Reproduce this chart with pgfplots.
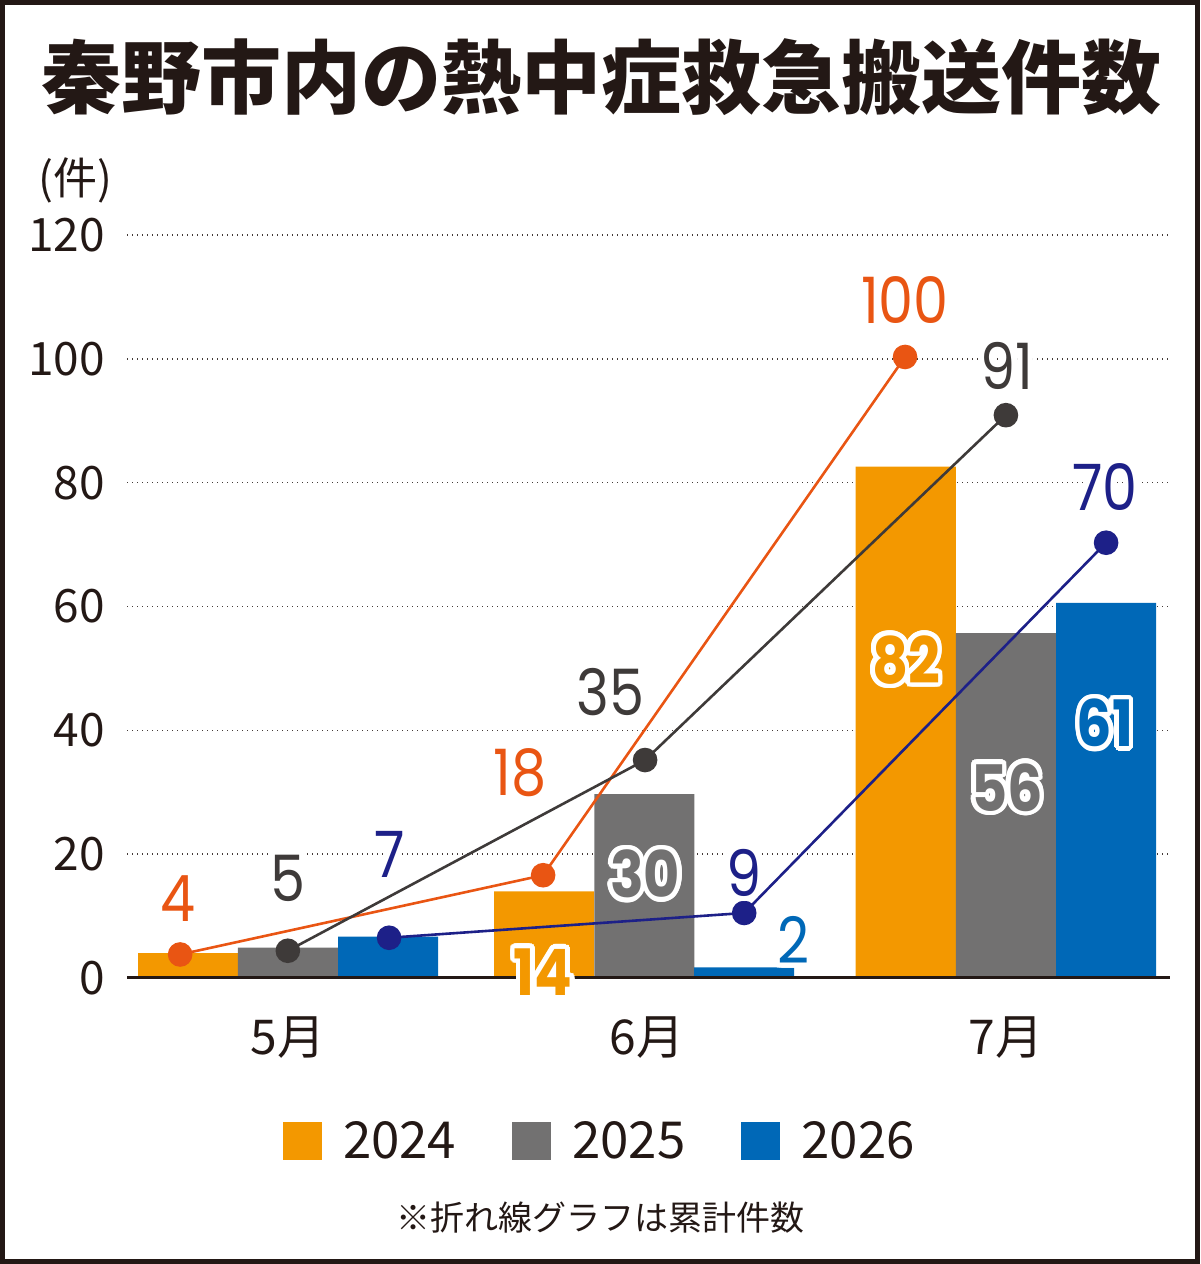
\documentclass[border=0pt]{standalone}
\usepackage{fontspec}
\setmainfont{Noto Sans CJK JP}
\newfontfamily\numfont{Poppins}[FakeStretch=0.87]
\usepackage{pgfplots}
\pgfplotsset{compat=1.18}
\definecolor{c24}{HTML}{F39800}
\definecolor{c25}{HTML}{727171}
\definecolor{c26}{HTML}{0068B7}
\definecolor{l24}{HTML}{E95513}
\definecolor{l25}{HTML}{3E3A39}
\definecolor{l26}{HTML}{1D2088}
\definecolor{ink}{HTML}{231815}
\newcommand\lab[3]{% coordinate, colour, text
  \foreach \r in {1.2pt,2.5pt}{\foreach \a in {0,20,...,340}{%
    \node[text=white,font=\numfont\fontsize{32pt}{32pt}\selectfont,inner sep=0pt] at ([shift={(\a:\r)}]#1) {#3};}}
  \node[text=#2,font=\numfont\fontsize{32pt}{32pt}\selectfont,inner sep=0pt] at (#1) {#3};}
\newcommand\blab[3]{% coordinate, colour, text
  \foreach \r in {1.1pt,2.3pt}{\foreach \a in {0,15,...,345}{%
    \node[text=white,font=\numfont\bfseries\fontsize{32pt}{32pt}\selectfont,inner sep=0pt] at ([shift={(\a:\r)}]#1) {#3};}}
  \node[text=#2,font=\numfont\bfseries\fontsize{32pt}{32pt}\selectfont,inner sep=0pt] at (#1) {#3};}
\pgfplotsset{sq/.style={legend image code/.code={\fill[##1] (0pt,-9.5pt) rectangle (19.5pt,9.5pt);}}}
\begin{document}
\begin{tikzpicture}
\useasboundingbox (0,0) rectangle (600pt,632pt);
\node[font=\bfseries\fontsize{40pt}{40pt}\selectfont, text=ink] at (300.5pt,593.5pt) {秦野市内の熱中症救急搬送件数};
\node[font=\fontsize{22pt}{22pt}\selectfont, text=ink] at (37.5pt,542pt) {(件)};
\begin{axis}[
  at={(63.5pt,143pt)}, anchor=south west,
  width=521.5pt, height=371.5pt, scale only axis,
  xmin=-0.448, xmax=2.457, ymin=0, ymax=120,
  axis line style={draw=none}, major tick length=0pt,
  clip=false,
  ytick={0,20,...,120},
  ymajorgrids,
  grid style={draw=ink!85, line width=0.7pt, dash pattern=on 0.7pt off 1.8pt},
  /pgf/number format/assume math mode=true,
  yticklabel style={font=\fontsize{23pt}{23pt}\selectfont, text=ink, anchor=east, inner sep=0pt, xshift=-11pt},
  xtick={0,1,2},
  xticklabels={5月,6月,7月},
  xticklabel style={font=\fontsize{24pt}{24pt}\selectfont, text=ink, anchor=base, inner sep=0pt, yshift=-38.5pt},
  legend style={at={(0.1496,-0.2194)}, anchor=west, draw=none, fill=none,
    inner sep=0pt, outer sep=0pt, legend columns=3,
    font=\fontsize{25.5pt}{25.5pt}\selectfont, text=ink,
    nodes={inner sep=0pt},
    /tikz/every odd column/.append style={column sep=10.5pt},
    /tikz/every even column/.append style={column sep=28pt}},
]
\addplot[ybar, bar width=0.2786, bar shift=0pt, fill=c24, draw=none, sq] coordinates {(-0.278,4) (0.714,14) (1.721,82.6)};
\addlegendentry{2024}
\addplot[ybar, bar width=0.2786, bar shift=0pt, fill=c25, draw=none, sq] coordinates {(0,4.9) (0.993,29.7) (2.0,55.7)};
\addlegendentry{2025}
\addplot[ybar, bar width=0.2786, bar shift=0pt, fill=c26, draw=none, sq] coordinates {(0.279,6.7) (1.271,1.7) (2.279,60.6)};
\addlegendentry{2026}
\draw[ink, line width=1.5pt] (rel axis cs:0,0) -- (rel axis cs:1,0);
\addplot[l24, line width=1.3pt, mark=*, mark size=5.5pt, mark options={draw=none, fill=l24}, forget plot] coordinates {(-0.300,3.8) (0.711,16.6) (1.719,100.3)};
\addplot[l25, line width=1.3pt, mark=*, mark size=5.5pt, mark options={draw=none, fill=l25}, forget plot] coordinates {(0,4.4) (0.995,35.2) (2.0,90.9)};
\addplot[l26, line width=1.3pt, mark=*, mark size=5.5pt, mark options={draw=none, fill=l26}, forget plot] coordinates {(0.282,6.5) (1.271,10.5) (2.279,70.3)};
\coordinate (a4) at (axis cs:-0.306,12.9);
\coordinate (a5) at (axis cs:0,16.15);
\coordinate (a7) at (axis cs:0.284,19.9);
\coordinate (a18) at (axis cs:0.647,33.1);
\coordinate (a35) at (axis cs:0.898,46.2);
\coordinate (a9) at (axis cs:1.271,17.0);
\coordinate (a2) at (axis cs:1.408,6.1);
\coordinate (a100) at (axis cs:1.719,109.5);
\coordinate (a91) at (axis cs:2.003,98.8);
\coordinate (a70) at (axis cs:2.276,79.3);
\coordinate (b82) at (axis cs:1.722,51.4);
\coordinate (b56) at (axis cs:2.003,30.8);
\coordinate (b61) at (axis cs:2.276,41.2);
\coordinate (b30) at (axis cs:0.995,16.8);
\coordinate (b14) at (axis cs:0.711,1.0);
\end{axis}
\lab{a4}{l24}{4}
\lab{a5}{l25}{5}
\lab{a7}{l26}{7}
\lab{a18}{l24}{18}
\lab{a35}{l25}{35}
\lab{a9}{l26}{9}
\lab{a2}{c26}{2}
\lab{a100}{l24}{100}
\lab{a91}{l25}{91}
\lab{a70}{l26}{70}
\blab{b82}{c24}{82}
\blab{b56}{c25}{56}
\blab{b61}{c26}{61}
\blab{b30}{c25}{30}
\blab{b14}{c24}{14}
\node[font=\fontsize{17pt}{17pt}\selectfont, text=ink] at (300pt,23pt) {※折れ線グラフは累計件数};
\draw[ink, line width=2.5pt] (1.25pt,1.25pt) rectangle (598.75pt,630.75pt);
\end{tikzpicture}
\end{document}
